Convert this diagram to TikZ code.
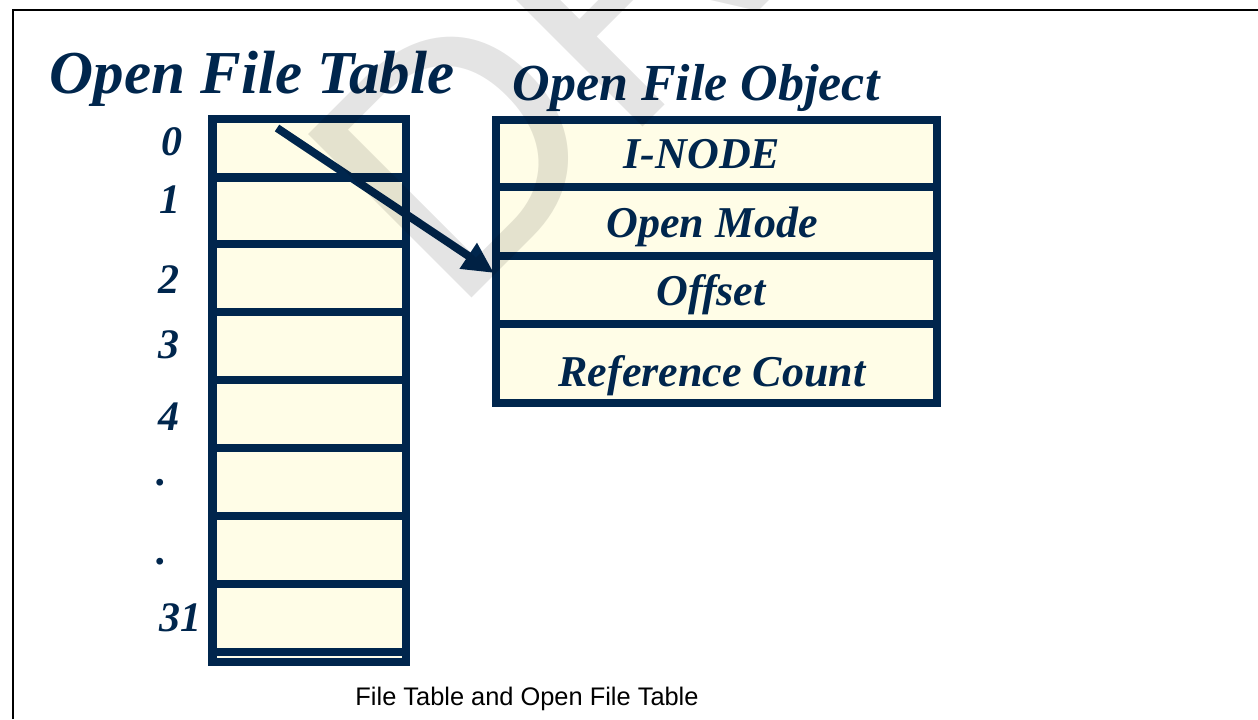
\documentclass[tikz,border=0pt]{standalone}
\usepackage{fontspec}
\setmainfont{Liberation Serif}
\setsansfont{Liberation Sans}
\usetikzlibrary{arrows.meta}
\definecolor{navy}{RGB}{0,38,77}
\definecolor{cream}{RGB}{255,253,231}
\definecolor{wmgray}{RGB}{228,228,228}

\begin{document}
\begin{tikzpicture}[x=0.5pt, y=-0.5pt,
  fcell/.style={draw=navy, fill=cream, line width=4.25pt, inner sep=0pt, minimum width=96.75pt},
  ocell/.style={draw=navy, fill=cream, line width=4.25pt, inner sep=0pt, minimum width=220.5pt},
  idx/.style={text=navy, inner sep=0pt, font=\bfseries\itshape\fontsize{21}{21}\selectfont},
  field/.style={text=navy, inner sep=0pt, text depth=0pt, font=\bfseries\itshape\fontsize{22}{22}\selectfont},
  heading/.style={text=navy, inner sep=0pt, anchor=base, font=\bfseries\itshape\fontsize{#1}{#1}\selectfont},
  pointer/.style={draw=navy, line width=4pt, -{Triangle[length=15.5pt, width=14.5pt]}},
  stamp/.style={text=wmgray, inner sep=0pt, anchor=base west, rotate=45, font=\sffamily\fontsize{168}{168}\selectfont}]
\useasboundingbox (0,0) rectangle (1258,719);

% frame
\draw [line width=1.25pt] (13,719) -- (13,10) -- (1258,10);

% open file table: slots 0..31
\foreach \i/\a/\b in {0/119/177.5, 1/177.5/244, 2/244/312, 3/312/380, 4/380/448, 5/448/516, 6/516/584, 31/584/652}
  \node [fcell, minimum height={(\b-\a)*0.5pt}] (ft\i) at (309.25, {(\a+\b)/2}) {};
\node [fcell, minimum height=5pt] (ftend) at (309.25, 657) {};

\node [idx] (n0) at (172,142) {0};
\node [idx] (n1) at (170,200) {1};
\node [idx] (n2) at (169,280) {2};
\node [idx] (n3) at (169,345) {3};
\node [idx] (n4) at (169,417) {4};
\node [idx] (dot1) at (162,483) {.};
\node [idx] (dot2) at (162,562) {.};
\node [idx] (n31) at (180,618) {31};

% open file object
\node [ocell, minimum height=33.5pt] (inode) at (716.5,153.5) {};
\node [ocell, minimum height=34.5pt] (mode) at (716.5,221.5) {};
\node [ocell, minimum height=34pt] (offset) at (716.5,290) {};
\node [ocell, minimum height=39.5pt] (refcnt) at (716.5,363.5) {};
\node [field] (inodetxt) at (702,154) {I-NODE};
\node [field] (modetxt) at (712,222) {Open Mode};
\node [field] (offsettxt) at (711,290) {Offset};
\node [field] (refcnttxt) at (712,371) {Reference Count};

% titles
\node [heading=30.5] (tabtitle) at (252,93) {Open File Table};
\node [heading=26] (objtitle) at (696,100) {Open File Object};

% slot 0 points at the object
\coordinate (slot0) at (277,128);
\coordinate (hit) at (494,273);
\draw [pointer] (slot0) -- (hit);

% watermark
\begin{scope}[blend mode=multiply]
\clip (0,0) rectangle (1258,719);
\node [stamp] (draft) at (452,318) {DRAFT};
\end{scope}

\node [font=\sffamily\fontsize{12.7}{13}\selectfont, anchor=base] (caption) at (527,705) {File Table and Open File Table};
\end{tikzpicture}
\end{document}
